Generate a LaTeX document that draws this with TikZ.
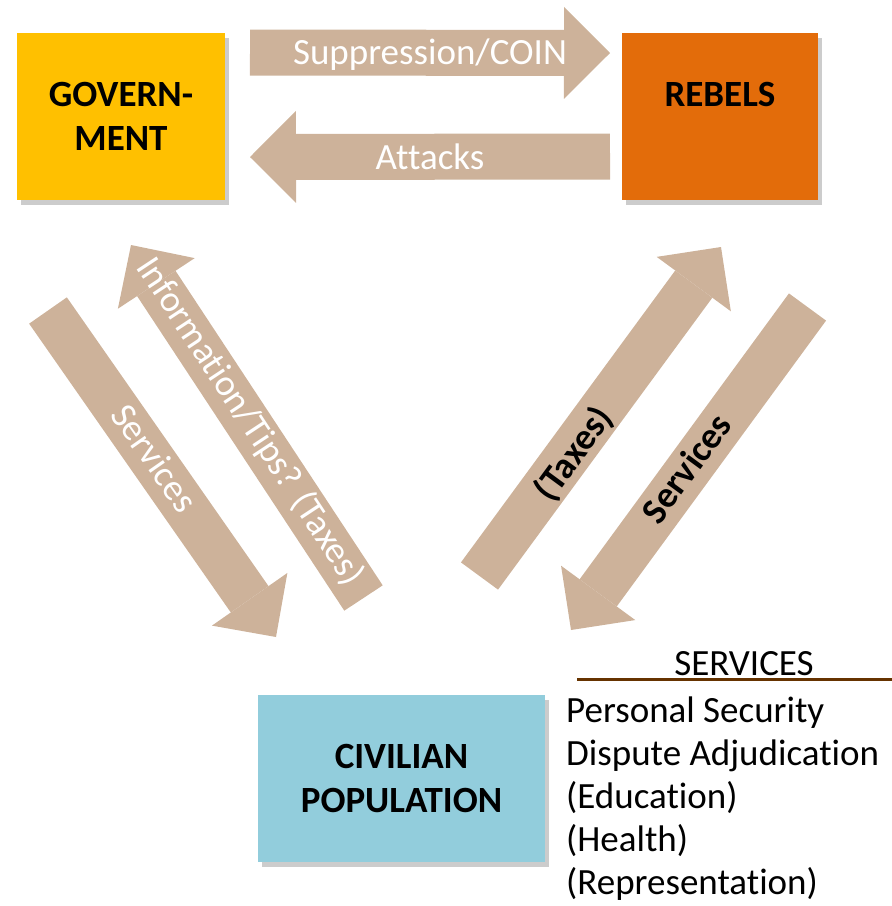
\documentclass[tikz,border=0pt]{standalone}
\usepackage{fontspec}
\setmainfont{Carlito}[Ligatures={NoCommon,NoContextual}, Contextuals=NoAlternate]
\usetikzlibrary{arrows.meta,shadows}
\definecolor{govgold}{RGB}{255,192,0}
\definecolor{rebelorange}{RGB}{227,108,10}
\definecolor{civblue}{RGB}{146,205,220}
\definecolor{flowtan}{RGB}{205,178,154}
\definecolor{rulebrown}{RGB}{102,51,0}
\begin{document}
\begin{tikzpicture}[x=1pt,y=-1pt,%
  actor/.style={fill=#1, inner sep=0pt, minimum height=167pt, align=center,%
    font=\fontsize{37}{44}\selectfont\bfseries,%
    drop shadow={shadow xshift=4pt, shadow yshift=-5pt, fill=black!40, opacity=0.5}},%
  flow/.style={draw=flowtan, line width=46pt, -{Triangle[width=92pt,length=46pt,line width=0pt]}},%
  flowlabel/.style={inner sep=0pt, font=\fontsize{37}{44}\selectfont}]%
\useasboundingbox (0,0) rectangle (892,906);%
% the three actors
\node[actor=govgold, minimum width=208pt] (gov) at (121,116.5) {GOVERN-\\MENT};%
\node[actor=rebelorange, minimum width=196pt, text depth=44pt] (rebels) at (720,116.5) {REBELS};%
\node[actor=civblue, minimum width=287pt] (civ) at (401.5,778.5) {CIVILIAN\\POPULATION};%
% arrow ends
\coordinate (supTail) at (250,52.5);%
\coordinate (supTip) at (610,53);%
\coordinate (attTail) at (610,156.5);%
\coordinate (attTip) at (250,157);%
\coordinate (govSvcTail) at (48,310.5);%
\coordinate (govSvcTip) at (276,637);%
\coordinate (infoTail) at (363.5,598);%
\coordinate (infoTip) at (131,245);%
\coordinate (taxTail) at (479.5,576);%
\coordinate (taxTip) at (721,247);%
\coordinate (rebSvcTail) at (807.5,307);%
\coordinate (rebSvcTip) at (571,630);%
% flows
\draw[flow] (supTail) -- (supTip);%
\draw[flow] (attTail) -- (attTip);%
\draw[flow] (govSvcTail) -- (govSvcTip);%
\draw[flow] (infoTail) -- (infoTip);%
\draw[flow] (taxTail) -- (taxTip);%
\draw[flow] (rebSvcTail) -- (rebSvcTip);%
\node[flowlabel, text=white, anchor=base] (supText) at (430,64.5) {Suppression/COIN};%
\node[flowlabel, text=white, anchor=base] (attText) at (430,169.5) {Attacks};%
\node[flowlabel, text=white, rotate=-55.1] (govSvcText) at (155,458) {Services};%
\node[flowlabel, text=white, rotate=-56.6] (infoText) at (250,421.5) {Information/Tips? (Taxes)};%
\node[flowlabel, font=\fontsize{37}{44}\selectfont\bfseries, rotate=53.7] (taxText) at (574,454) {(Taxes)};%
\node[flowlabel, font=\fontsize{37}{44}\selectfont\bfseries, rotate=53.8] (rebSvcText) at (686,468) {Services};%
% services list
\coordinate (ruleStart) at (577,679);%
\coordinate (ruleEnd) at (892,679);%
\draw[rulebrown, line width=3pt] (ruleStart) -- (ruleEnd);%
\node[flowlabel, anchor=base] (svcHead) at (744,675) {SERVICES};%
\foreach \svc [count=\i from 0] in {{Personal Security}, {Dispute Adjudication}, {(Education)}, {(Health)}, {(Representation)}}%
  \node[flowlabel, anchor=base west] (svc\i) at (566,722+43*\i) {\svc};%
\end{tikzpicture}
\end{document}
